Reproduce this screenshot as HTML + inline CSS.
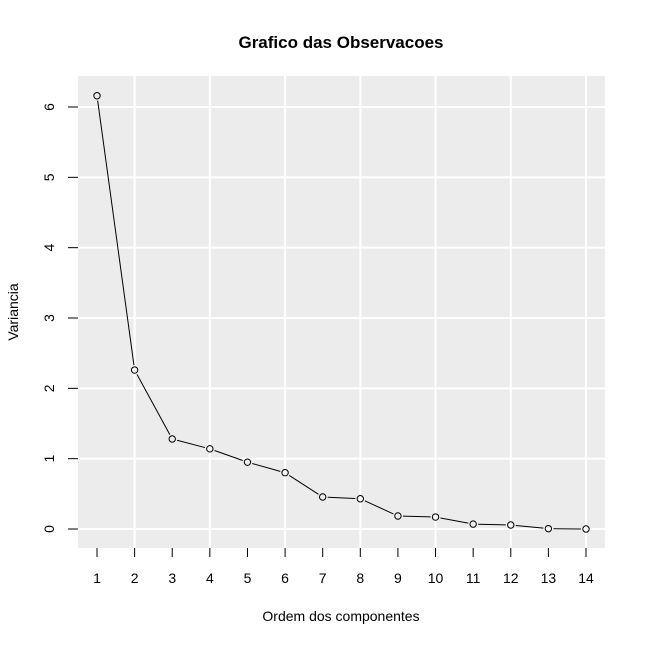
<!DOCTYPE html>
<html><head><meta charset="utf-8"><style>
html,body{margin:0;padding:0;background:#fff;}
svg{display:block;font-family:"Liberation Sans",Arial,sans-serif;}
</style></head><body>
<svg id="chart" width="645" height="645" viewBox="0 0 645 645">
<text x="341" y="48" text-anchor="middle" font-size="17" font-weight="bold">Grafico das Observacoes</text>
<text x="341" y="621" text-anchor="middle" font-size="14">Ordem dos componentes</text>
<text transform="translate(18,312) rotate(-90)" text-anchor="middle" font-size="14">Variancia</text>
<rect x="78" y="76" width="527" height="472" fill="#ececec"/>
<g id="grid"></g><g id="axes"></g><g id="series"></g>
</svg>
<script>
const components=[1,2,3,4,5,6,7,8,9,10,11,12,13,14];
const variances=[6.16,2.26,1.28,1.14,0.95,0.80,0.455,0.43,0.185,0.17,0.07,0.057,0.005,0.0];
const xTicks=[1,2,3,4,5,6,7,8,9,10,11,12,13,14];
const xGrid=[2,4,6,8,10,12,14];
const yTicks=[0,1,2,3,4,5,6];
const NS="http://www.w3.org/2000/svg";
function X(v){return 97+(v-1)*(586-97)/13;}
function Y(v){return 529-v*(529-107)/6;}
function mk(t,a,p){const e=document.createElementNS(NS,t);for(const k in a)e.setAttribute(k,a[k]);p.appendChild(e);return e;}
const grid=document.getElementById('grid'),axes=document.getElementById('axes'),series=document.getElementById('series');
xGrid.forEach(v=>{const l=mk('line',{x1:X(v),x2:X(v),y1:76,y2:548,stroke:'#fff','stroke-width':2},grid);

});
yTicks.forEach(v=>{const l=mk('line',{x1:78,x2:605,y1:Y(v),y2:Y(v),stroke:'#fff','stroke-width':2},grid);


const t=mk('line',{x1:68,x2:78,y1:Y(v),y2:Y(v),stroke:'#000'},axes);


const tx=mk('text',{transform:`translate(54,${Y(v)}) rotate(-90)`,'text-anchor':'middle','font-size':14},axes);
tx.textContent=v;

});
xTicks.forEach(v=>{const t=mk('line',{x1:X(v),x2:X(v),y1:548,y2:557,stroke:'#000'},axes);


const tx=mk('text',{x:X(v),y:583,'text-anchor':'middle','font-size':14},axes);
tx.textContent=v;

});
const pts=components.map((c,i)=>[X(c),Y(variances[i])]);
for(let i=0;i<pts.length-1;i++){const [x1,y1]=pts[i],[x2,y2]=pts[i+1];const dx=x2-x1,dy=y2-y1,d=Math.hypot(dx,dy),g=5;
if(d>2*g){const s=mk('line',{x1:x1+dx*g/d,y1:y1+dy*g/d,x2:x2-dx*g/d,y2:y2-dy*g/d,stroke:'#000','stroke-width':1},series);

}}
pts.forEach(([x,y])=>{const c=mk('circle',{cx:x,cy:y,r:3.2,fill:'none',stroke:'#000','stroke-width':1},series);

});
</script>
</body></html>
